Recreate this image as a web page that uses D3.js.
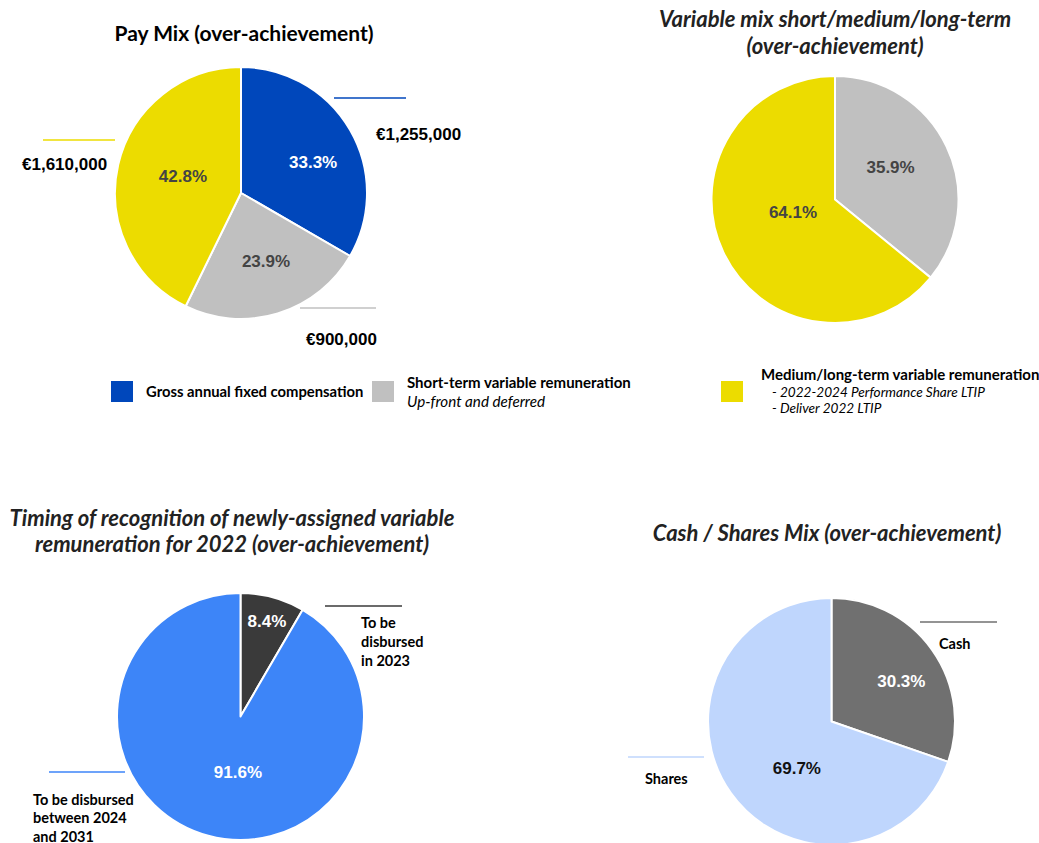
<!DOCTYPE html>
<html><head><meta charset="utf-8">
<script src="https://cdn.jsdelivr.net/npm/d3@7"></script>
<style>
html,body{margin:0;padding:0;background:#fff;}
svg{display:block;}
</style></head>
<body>
<svg id="c" width="1039" height="843"></svg>
<script>
// ---------- DATA ----------
const payCategories = ["Gross annual fixed compensation", "Short-term variable remuneration", "Medium/long-term variable remuneration"];
const payValues = [1255000, 900000, 1610000];
const payAmountLabels = ["€1,255,000", "€900,000", "€1,610,000"];

const varMixCategories = ["Short-term variable remuneration", "Medium/long-term variable remuneration"];
const varMixValues = [35.9, 64.1];

const timingCategories = ["To be disbursed in 2023", "To be disbursed between 2024 and 2031"];
const timingValues = [8.4, 91.6];

const cashSharesCategories = ["Cash", "Shares"];
const cashSharesValues = [30.3, 69.7];

const titles = [
  ["Pay Mix (over-achievement)"],
  ["Variable mix short/medium/long-term", "(over-achievement)"],
  ["Timing of recognition of newly-assigned variable", "remuneration for 2022 (over-achievement)"],
  ["Cash / Shares Mix (over-achievement)"]
];

// ---------- STYLE / LAYOUT ----------
const BLUE = "#0047BB", YELLOW = "#ECDC00", GREY = "#C0C0C0";
const svg = d3.select("#c");
const TITLE_FONT = "Lato, 'Open Sans', sans-serif";
const NUM_FONT = "'Liberation Sans', Arial, sans-serif";

const charts = [
  { values: payValues, colors: [BLUE, GREY, YELLOW], cx: 241, cy: 193, r: 126,
    labelColors: ["#ffffff", "#444444", "#444444"], lf: [0.62, 0.575, 0.48], shift: [7.4, -3.2, 3.3] },
  { values: varMixValues, colors: [GREY, YELLOW], cx: 835, cy: 199.5, r: 123.5,
    labelColors: ["#444444", "#444444"], lf: [0.52, 0.355], shift: [-4.7, 8.8] },
  { values: timingValues, colors: ["#3A3A3A", "#3D85F8"], cx: 240.5, cy: 716.5, r: 123.5,
    labelColors: ["#ffffff", "#ffffff"], lf: [0.80, 0.45], shift: [0.4, -12.5] },
  { values: cashSharesValues, colors: ["#707070", "#BFD6FD"], cx: 831.5, cy: 721.5, r: 123.5,
    labelColors: ["#ffffff", "#111111"], lf: [0.65, 0.47], shift: [5.9, -17.9] }
];

charts.forEach(ch => {
  const total = d3.sum(ch.values);
  const pie = d3.pie().sort(null).value(d => d)(ch.values);
  const arc = d3.arc().innerRadius(0).outerRadius(ch.r);
  const g = svg.append("g").attr("transform", `translate(${ch.cx},${ch.cy})`);
  g.selectAll("path").data(pie).join("path")
    .attr("d", arc)
    .attr("fill", (d, i) => ch.colors[i])
    .attr("stroke", "#fff").attr("stroke-width", 2).attr("stroke-linejoin", "round");
  g.selectAll("text.pct").data(pie).join("text")
    .attr("class", "pct")
    .each(function (d, i) {
      const a = (d.startAngle + d.endAngle) / 2 + ch.shift[i] * Math.PI / 180;
      const rr = ch.r * ch.lf[i];
      d3.select(this).attr("x", rr * Math.sin(a)).attr("y", -rr * Math.cos(a));
    })
    .attr("text-anchor", "middle").attr("dominant-baseline", "central")
    .attr("font-family", NUM_FONT).attr("font-weight", "bold").attr("font-size", 17)
    .attr("fill", (d, i) => ch.labelColors[i])
    .text(d => (d.value / total * 100).toFixed(1) + "%");
});

// ---------- TITLES ----------
const titleLayout = [
  { x: 244, y: [32], italic: false, size: 21 },
  { x: 835, y: [18, 45], italic: true, size: 22 },
  { x: 232, y: [517, 543], italic: true, size: 22 },
  { x: 827, y: [532], italic: true, size: 22 }
];
titles.forEach((lines, k) => {
  const L = titleLayout[k];
  lines.forEach((t, j) => {
    svg.append("text").attr("x", L.x).attr("y", L.y[j])
      .attr("text-anchor", "middle").attr("dominant-baseline", "central")
      .attr("font-family", TITLE_FONT).attr("font-weight", "bold")
      .attr("font-style", L.italic ? "italic" : "normal")
      .attr("font-size", L.size).attr("fill", k === 0 ? "#000" : "#222")
      .text(t);
  });
});

// ---------- CALLOUTS ----------
function hline(x1, x2, y, color) {
  svg.append("line").attr("x1", x1).attr("x2", x2).attr("y1", y).attr("y2", y)
    .attr("stroke", color).attr("stroke-width", 1.5);
}
function label(x, y, t, font, size, anchor) {
  svg.append("text").attr("x", x).attr("y", y)
    .attr("dominant-baseline", "central").attr("text-anchor", anchor || "start")
    .attr("font-family", font).attr("font-weight", "bold").attr("font-size", size)
    .attr("fill", "#000").text(t);
}
// Pay mix amounts
hline(334, 406, 98, BLUE);   label(376, 134, payAmountLabels[0], NUM_FONT, 17);
hline(300, 376, 308, GREY);  label(306, 339, payAmountLabels[1], NUM_FONT, 17);
hline(43, 115, 140, YELLOW); label(22, 164, payAmountLabels[2], NUM_FONT, 17);

// Timing callouts
hline(325, 402, 606, charts[2].colors[0]);
["To be", "disbursed", "in 2023"].forEach((t, j) => label(361, 622 + j * 19, t, TITLE_FONT, 14.5));
hline(49, 125, 772, charts[2].colors[1]);
["To be disbursed", "between 2024", "and 2031"].forEach((t, j) => label(33, 799 + j * 18.5, t, TITLE_FONT, 14.5));

// Cash/Shares callouts
hline(920, 997, 622, charts[3].colors[0]); label(939, 643, cashSharesCategories[0], TITLE_FONT, 14.5);
hline(628, 704, 757, charts[3].colors[1]); label(645, 778, cashSharesCategories[1], TITLE_FONT, 14.5);

// ---------- LEGEND ----------
function swatch(x, y, color) {
  svg.append("rect").attr("x", x).attr("y", y).attr("width", 22).attr("height", 21).attr("fill", color);
}
function ltext(x, y, t, italic, size) {
  svg.append("text").attr("x", x).attr("y", y).attr("dominant-baseline", "central")
    .attr("font-family", TITLE_FONT).attr("font-weight", italic ? "normal" : "bold")
    .attr("font-style", italic ? "italic" : "normal")
    .attr("font-size", size).attr("fill", "#000").text(t);
}
swatch(111, 381, BLUE);   ltext(146, 391, payCategories[0], false, 14.8);
swatch(372, 381, GREY);   ltext(407, 382, payCategories[1], false, 15);
ltext(407, 401, "Up-front and deferred", true, 15.2);
swatch(721, 381, YELLOW); ltext(761, 374, payCategories[2], false, 15);
ltext(772, 392, "-  2022-2024 Performance Share LTIP", true, 13.6);
ltext(772, 408, "-  Deliver 2022 LTIP", true, 13.6);
</script>
</body></html>
